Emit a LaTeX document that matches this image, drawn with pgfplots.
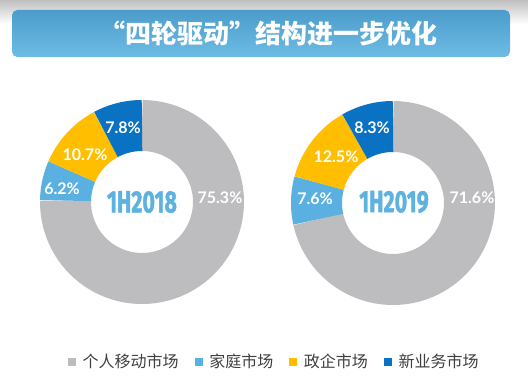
\documentclass[border=0pt]{standalone}
\usepackage{pgfplots}
\pgfplotsset{compat=1.18}
\usepgfplotslibrary{polar}
\usepackage{graphicx}
\usepackage{fontspec}
\setmainfont{Lato}
\newfontfamily\cjk{Noto Sans CJK SC}
\newfontfamily\numf{Fira Sans}[BoldFeatures={FakeBold=1.6}]
\definecolor{cGray}{HTML}{BDBDBF}
\definecolor{cLight}{HTML}{5AB1E1}
\definecolor{cYellow}{HTML}{FFBF00}
\definecolor{cDark}{HTML}{0A72C2}
\definecolor{bannerTop}{HTML}{4C9CCB}
\definecolor{bannerBot}{HTML}{6DBCE4}
\definecolor{centerBlue}{HTML}{5EB2E0}
\definecolor{legText}{HTML}{3F3F3F}
% pixel coordinates of the 528x385 reference (1 px = 0.75 pt, y downwards)
\newcommand{\px}[2]{({(#1)*0.75pt},{-(#2)*0.75pt})}
% one ring sector: colour, cumulative share before it (%), its share (%)
\newcommand{\seg}[3]{\addplot[color=#1, line width=38.25pt, domain={90-3.6*(#2+#3)}:{90-3.6*(#2)}, samples=90] {0.75};}
\newcommand{\legfont}{\cjk\fontsize{12}{14}\selectfont}
\begin{document}
\begin{tikzpicture}
\fill[white] \px{0}{0} rectangle \px{528}{385};
\shade[top color=black!25, bottom color=white] \px{0}{0} rectangle \px{528}{24};
\shade[rounded corners=4pt, top color=bannerTop, bottom color=bannerBot] \px{12}{10} rectangle \px{510}{57};
\node[text=white, font=\cjk\bfseries\fontsize{19.5}{22}\selectfont] at \px{268}{33.5} {“四轮驱动”结构进一步优化};

\begin{polaraxis}[at={(106.5pt,-151.5pt)}, anchor=center, width=153pt, height=153pt, scale only axis,
  hide axis, ymin=0, ymax=1, clip=false,
  legend columns=4,
  legend image code/.code={\fill[#1, draw=none, line width=0pt] (0pt,-3pt) rectangle (6pt,3pt);},
  legend style={at={(1.15,-0.284)}, anchor=center, draw=none, fill=none,
    font=\legfont, text=legText, nodes={font=\legfont},
    /tikz/every odd column/.style={column sep=3pt},
    /tikz/every even column/.style={column sep=10pt}},
  legend entries={{\legfont 个人移动市场},{\legfont 家庭市场},{\legfont 政企市场},{\legfont 新业务市场}}]
\seg{cGray}{0}{75.3}
\seg{cLight}{75.3}{6.2}
\seg{cYellow}{81.5}{10.7}
\seg{cDark}{92.2}{7.8}
\end{polaraxis}

\begin{polaraxis}[at={(294.75pt,-152.25pt)}, anchor=center, width=153pt, height=153pt, scale only axis,
  hide axis, ymin=0, ymax=1, clip=false]
\seg{cGray}{0}{71.6}
\seg{cLight}{71.6}{7.6}
\seg{cYellow}{79.2}{12.5}
\seg{cDark}{91.7}{8.3}
\end{polaraxis}

\tikzset{lab/.style={text=white, font=\bfseries\fontsize{12}{14}\selectfont, inner sep=0pt}}
\node[lab] at \px{220}{198} {75.3\%};
\node[lab] at \px{62}{189} {6.2\%};
\node[lab] at \px{85}{155} {10.7\%};
\node[lab] at \px{123}{128} {7.8\%};
\node[lab] at \px{472}{198} {71.6\%};
\node[lab] at \px{315}{199} {7.6\%};
\node[lab] at \px{336}{157} {12.5\%};
\node[lab] at \px{372}{128} {8.3\%};
\node[text=centerBlue, font=\numf\bfseries\fontsize{23}{26}\selectfont] at \px{142}{202} {\scalebox{0.7}[1]{1H2018}};
\node[text=centerBlue, font=\numf\bfseries\fontsize{23}{26}\selectfont] at \px{394}{202} {\scalebox{0.7}[1]{1H2019}};
\end{tikzpicture}
\end{document}
